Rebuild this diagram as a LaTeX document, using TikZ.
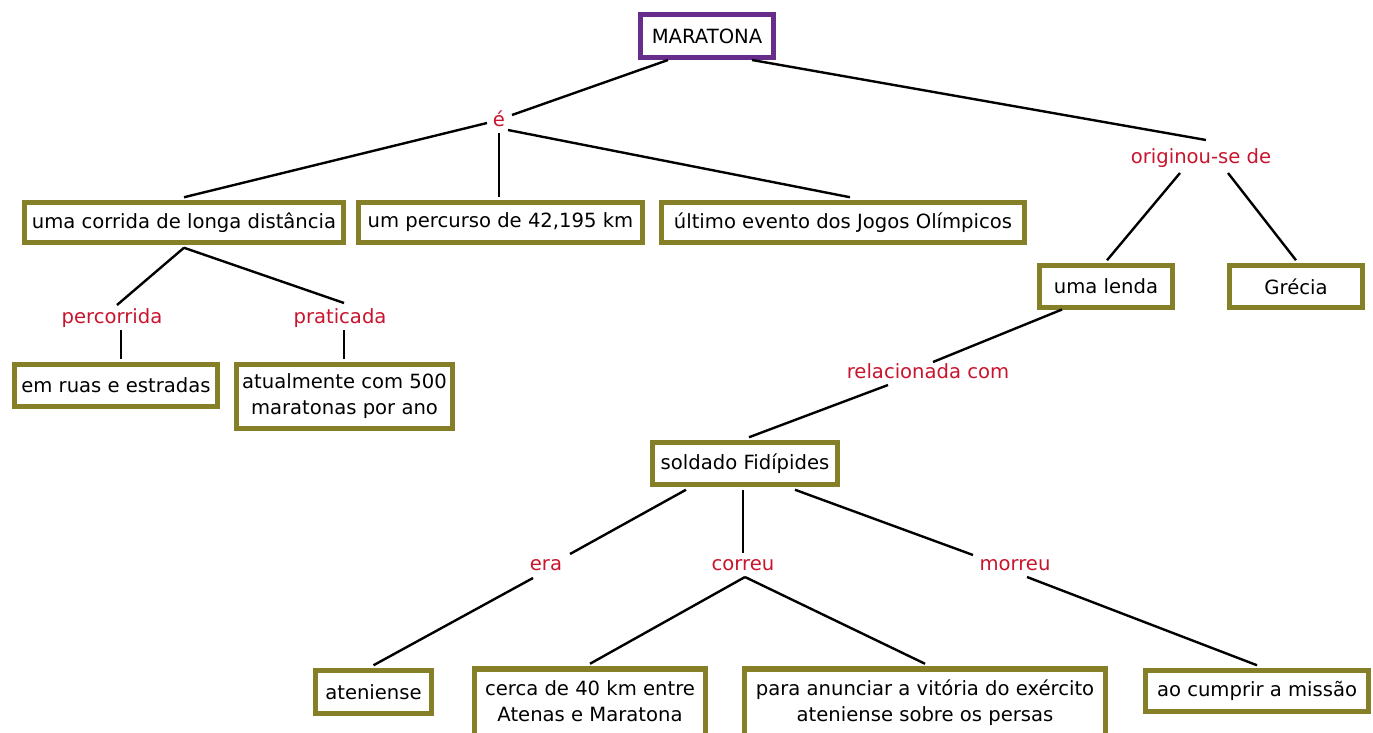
\documentclass[tikz,border=0pt]{standalone}
\usepackage{fontspec}
\setmainfont{DejaVu Sans}
\usepackage{xcolor}
\usetikzlibrary{positioning, calc}

\definecolor{olivebox}{RGB}{133,128,40}
\definecolor{purplebox}{RGB}{104,44,139}
\definecolor{labelred}{RGB}{200,20,45}

\begin{document}
\begin{tikzpicture}[x=1pt, y=-1pt,
    txt/.style={font=\fontsize{19.6}{26}\selectfont},
    box/.style={txt, draw=olivebox, line width=5.5pt, fill=white, inner sep=2pt, align=center},
    lbl/.style={txt, text=labelred, inner sep=0pt},
    link/.style={line width=2.4pt}]
\useasboundingbox (0,0) rectangle (1373,733);

% concepts
\node[box, draw=purplebox, minimum width=133, minimum height=43] (mar) at (707,36) {MARATONA};
\node[box, minimum width=319, minimum height=40] (corr) at (184,222.5) {uma corrida de longa distância};
\node[box, minimum width=284, minimum height=40] (perc) at (500.5,222.5) {um percurso de 42,195 km};
\node[box, minimum width=363, minimum height=40] (ult) at (843,222.5) {último evento dos Jogos Olímpicos};
\node[box, minimum width=133, minimum height=42] (lenda) at (1106,286.5) {uma lenda};
\node[box, minimum width=133, minimum height=42] (grecia) at (1296,286.5) {Grécia};
\node[box, minimum width=203, minimum height=42] (ruas) at (116,385.5) {em ruas e estradas};
\node[box, minimum width=216, minimum height=64] (atual) at (344.5,396.5) {atualmente com 500\\maratonas por ano};
\node[box, minimum width=185, minimum height=42] (sold) at (745,463.5) {soldado Fidípides};
\node[box, minimum width=116, minimum height=43] (aten) at (373.5,692) {ateniense};
\node[box, minimum width=231, minimum height=72, text depth=8] (cerca) at (590,705) {cerca de 40 km entre\\Atenas e Maratona};
\node[box, minimum width=361, minimum height=72, text depth=8] (anunc) at (925,705) {para anunciar a vitória do exército\\ateniense sobre os persas};
\node[box, minimum width=223, minimum height=41] (cumprir) at (1257,691) {ao cumprir a missão};

% linking phrases
\node[lbl] (e) at (499,119) {é};
\node[lbl] (orig) at (1201,158) {originou-se de};
\node[lbl] (lperc) at (112,318) {percorrida};
\node[lbl] (lprat) at (340,318) {praticada};
\node[lbl] (rel) at (928,371) {relacionada com};
\node[lbl] (lera) at (546,565) {era};
\node[lbl] (lcorreu) at (743,565) {correu};
\node[lbl] (lmorreu) at (1015,565) {morreu};

% connectors
\draw[link] ($(mar)+(-39,24)$) -- ($(e)+(13,-4)$);
\draw[link] ($(e)+(-12,4)$) -- ($(corr.north)+(0,-2.5)$);
\draw[link] ($(e)+(0,14)$) -- ($(perc.north)+(-1.5,-2.5)$);
\draw[link] ($(e)+(9,11)$) -- ($(ult.north)+(7,-2.5)$);
\draw[link] ($(mar)+(45,24)$) -- ($(orig)+(5,-18)$);
\draw[link] ($(orig)+(-21,15)$) -- ($(lenda.north)+(1,-2.5)$);
\draw[link] ($(orig)+(27,15)$) -- ($(grecia.north)+(0,-2.5)$);
\draw[link] ($(corr.south)+(0,2.5)$) -- ($(lperc)+(5,-13)$);
\draw[link] ($(corr.south)+(0,2.5)$) -- ($(lprat)+(4,-15)$);
\draw[link] ($(lperc)+(9,12)$) -- ($(ruas.north)+(5,-2.5)$);
\draw[link] ($(lprat)+(4,12)$) -- ($(atual.north)+(-0.5,-2.5)$);
\draw[link] ($(lenda)+(-44,23)$) -- ($(rel)+(5,-9)$);
\draw[link] ($(rel)+(-40,14)$) -- ($(sold.north)+(4,-2.5)$);
\draw[link] ($(sold.south)+(-59,2.5)$) -- ($(lera)+(24,-11)$);
\draw[link] ($(sold.south)+(-2,2.5)$) -- ($(lcorreu)+(0,-12)$);
\draw[link] ($(sold.south)+(50,2.5)$) -- ($(lmorreu)+(-42,-10)$);
\draw[link] ($(lera)+(-13,13)$) -- ($(aten.north)+(0,-2.5)$);
\draw[link] ($(lcorreu)+(2,12)$) -- ($(cerca.north)+(0,-2.5)$);
\draw[link] ($(lcorreu)+(2,12)$) -- ($(anunc.north)+(0,-2.5)$);
\draw[link] ($(lmorreu)+(12,12)$) -- ($(cumprir.north)+(0,-2.5)$);
\end{tikzpicture}
\end{document}
